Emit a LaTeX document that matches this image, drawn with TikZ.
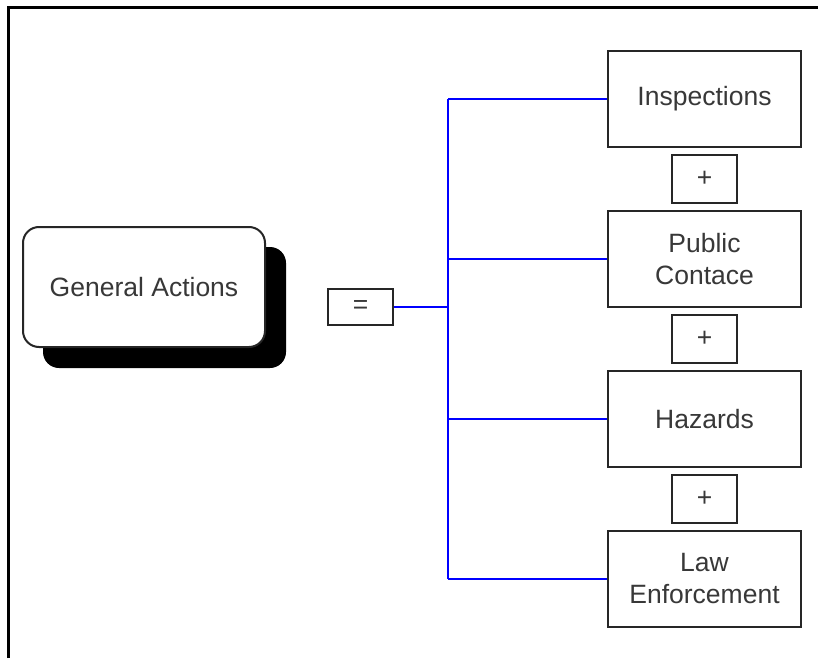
\documentclass[tikz,border=0pt]{standalone}
\usepackage{fontspec}
\setmainfont{Liberation Sans}
\begin{document}
\begin{tikzpicture}[x=1pt,y=-1pt,
  txt/.style={text=black!78,font=\fontsize{26.5}{32}\selectfont,align=center},
  item/.style={txt,draw=black!85,line width=2pt,minimum width=193pt,minimum height=96pt,inner sep=0pt},
  opbox/.style={txt,draw=black!85,line width=2pt,minimum width=65pt,minimum height=48pt,inner sep=0pt},
  eqbox/.style={txt,draw=black!85,line width=2pt,minimum width=65pt,minimum height=36pt,inner sep=0pt},
  conn/.style={draw=blue,line width=2pt}]
\useasboundingbox (0,0) rectangle (818,658);
\fill[white] (0,0) rectangle (818,658);
% frame
\draw[line width=3.5pt] (8.5,658) -- (8.5,7.5) -- (818,7.5);
% general actions with shadow
\fill[black,rounded corners=16pt] (43,247) rectangle (286,368);
\node[txt,draw=black!85,fill=white,line width=2pt,rounded corners=16pt,minimum width=242pt,minimum height=120pt,inner sep=0pt] (ga) at (144,287) {General Actions};
% equals box
\node[eqbox] (eq) at (360.5,307) {=};
% items
\node[item] (insp) at (704.5,99) {Inspections};
\node[item] (pub) at (704.5,259) {Public\\Contace};
\node[item] (haz) at (704.5,419) {Hazards};
\node[item] (law) at (704.5,579) {Law\\Enforcement};
% plus boxes
\node[opbox] (p1) at (704.5,179) {+};
\node[opbox] (p2) at (704.5,339) {+};
\node[opbox] (p3) at (704.5,499) {+};
% connectors
\coordinate (jm) at (448,307);
\coordinate (j1) at (448,99);
\coordinate (j2) at (448,259);
\coordinate (j3) at (448,419);
\coordinate (j4) at (448,579);
\draw[conn] (eq.east) -- (jm);
\draw[conn] (j1) -- (j4);
\draw[conn] (j1) -- (insp.west);
\draw[conn] (j2) -- (pub.west);
\draw[conn] (j3) -- (haz.west);
\draw[conn] (j4) -- (law.west);
\end{tikzpicture}
\end{document}
